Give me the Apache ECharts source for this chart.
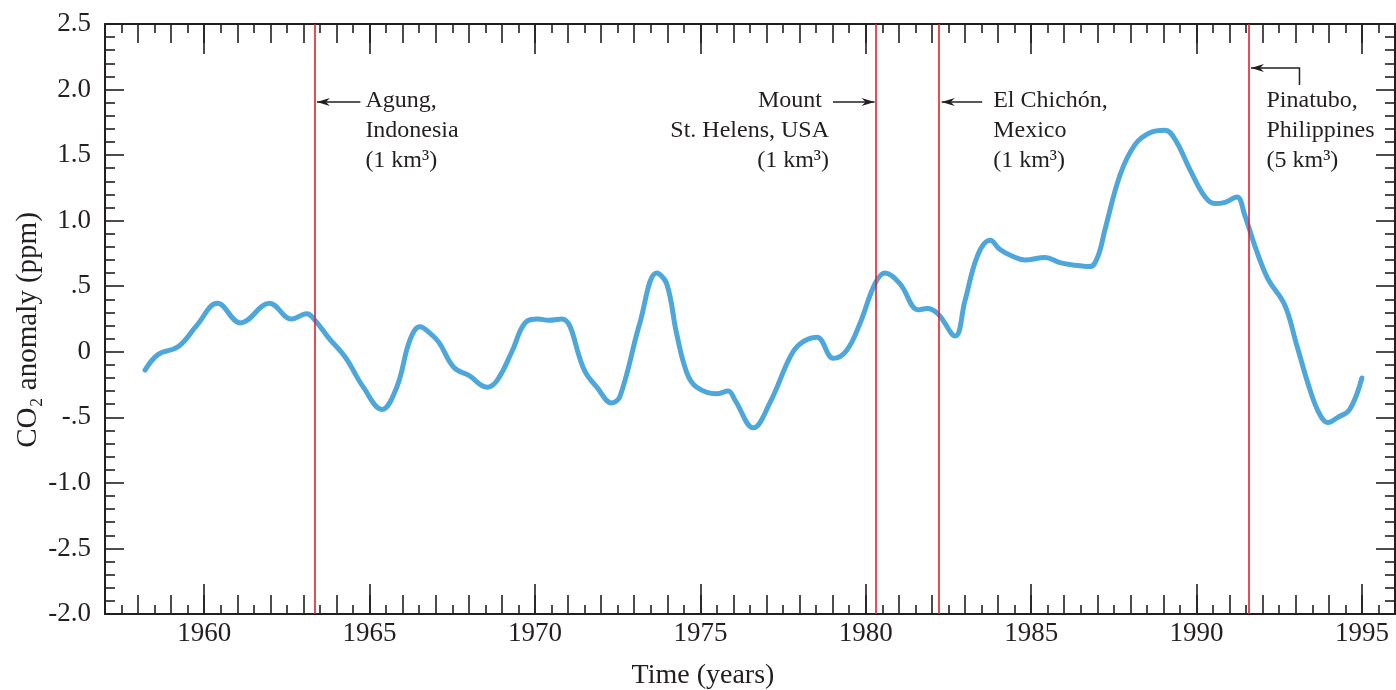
<!DOCTYPE html>
<html><head><meta charset="utf-8">
<script src="https://cdn.jsdelivr.net/npm/echarts@6/dist/echarts.min.js"></script>
<style>html,body{margin:0;padding:0;background:#fff}#c{width:1396px;height:690px}</style>
</head><body><div id="c"></div>
<script>
// ---- data ----
const years = [1958.21,1958.61,1959.22,1959.77,1960.40,1961.10,1961.97,1962.64,1963.10,1963.35,1963.78,1964.26,1964.81,1965.37,1965.82,1966.22,1966.52,1966.83,1967.10,1967.55,1968.00,1968.55,1968.85,1969.30,1969.70,1970.10,1970.40,1970.81,1971.51,1971.87,1972.32,1972.57,1973.17,1973.68,1973.98,1974.28,1974.59,1974.89,1975.49,1975.84,1976.05,1976.60,1977.10,1977.71,1978.01,1978.52,1979.02,1979.42,1979.83,1980.28,1980.58,1981.03,1981.59,1981.85,1982.18,1982.70,1983.00,1983.39,1983.76,1984.06,1984.42,1984.81,1985.42,1985.87,1986.33,1986.78,1987.02,1987.23,1987.69,1988.14,1988.59,1989.05,1989.35,1989.80,1990.26,1990.56,1990.86,1991.22,1991.46,1991.76,1992.15,1992.66,1993.03,1993.43,1993.73,1993.97,1994.27,1994.63,1995.00];
const co2Anomaly = [-0.14,-0.02,0.04,0.20,0.37,0.22,0.37,0.25,0.29,0.24,0.10,-0.04,-0.27,-0.44,-0.27,0.09,0.19,0.14,0.07,-0.12,-0.18,-0.27,-0.22,0.00,0.22,0.25,0.24,0.25,-0.15,-0.27,-0.39,-0.34,0.22,0.60,0.52,0.14,-0.16,-0.27,-0.32,-0.30,-0.37,-0.58,-0.39,-0.04,0.06,0.11,-0.05,0.01,0.22,0.52,0.60,0.52,0.32,0.33,0.29,0.12,0.39,0.74,0.85,0.78,0.73,0.70,0.72,0.68,0.66,0.65,0.73,0.93,1.35,1.58,1.67,1.69,1.62,1.39,1.18,1.13,1.14,1.18,1.04,0.81,0.56,0.36,0.05,-0.29,-0.48,-0.54,-0.50,-0.44,-0.20];
const xMajorTicks = [1960,1965,1970,1975,1980,1985,1990,1995];
const yTickValues = [-2.0,-1.5,-1.0,-0.5,0,0.5,1.0,1.5,2.0,2.5];
const yTickLabels = ["-2.0","-2.5","-1.0","-.5","0",".5","1.0","1.5","2.0","2.5"];
const volcanoYears = [1963.33,1980.31,1982.22,1991.57];
const volcanoText = [
  ["Agung,","Indonesia","(1 km³)"],
  ["Mount","St. Helens, USA","(1 km³)"],
  ["El Chichón,","Mexico","(1 km³)"],
  ["Pinatubo,","Philippines","(5 km³)"]
];
const xTitle = "Time (years)";
const yTitle = "CO₂ anomaly (ppm)";

// ---- chart ----
const INK = '#231f20';
const FONT = '"Liberation Serif","Times New Roman",serif';
const chart = echarts.init(document.getElementById('c'), null, {renderer:'canvas'});
const tickStyle = {color: INK, width: 1.6};
function xAx(pos, major, label){
  const a = {type:'value', min:1957, max:1996, position:pos, splitLine:{show:false},
    axisLine:{show:major, onZero:false, lineStyle:{color:INK, width:2}},
    axisLabel:{show:false}};
  if (major) {
    a.axisTick = {show:true, inside:true, length:30, customValues:xMajorTicks, lineStyle:tickStyle};
    a.axisLabel = {show:label, customValues:xMajorTicks, margin:6, color:INK, fontFamily:FONT, fontSize:27,
      formatter: v => String(Math.round(v))};
  } else {
    a.interval = 1;
    a.axisTick = {show:true, inside:true, length:19, lineStyle:tickStyle};
    a.minorTick = {show:true, splitNumber:2, length:9, lineStyle:tickStyle};
  }
  return a;
}
function yAx(pos, label){
  return {type:'value', min:-2, max:2.5, interval:0.5, position:pos, splitLine:{show:false},
    axisLine:{show:true, onZero:false, lineStyle:{color:INK, width:2}},
    axisTick:{show:true, inside:true, length:19, lineStyle:tickStyle},
    minorTick:{show:true, splitNumber:5, length:10, lineStyle:tickStyle},
    axisLabel:{show:label, margin:14, color:INK, fontFamily:FONT, fontSize:27,
      formatter: v => yTickLabels[yTickValues.findIndex(t => Math.abs(t - v) < 1e-6)]}};
}
chart.setOption({
  animation:false,
  backgroundColor:'#fff',
  grid:{left:105, right:1, top:24, bottom:76, containLabel:false},
  xAxis:[xAx('bottom',true,true), xAx('bottom',false,false), xAx('top',true,false), xAx('top',false,false)],
  yAxis:[yAx('left',true), yAx('right',false)],
  series:[{
    type:'line', xAxisIndex:0, yAxisIndex:0, smooth:0.4, showSymbol:false,
    data: years.map((y,i)=>[y, co2Anomaly[i]]),
    lineStyle:{color:'#4ea7da', width:5, cap:'round', join:'round'},
    z:3,
    markLine:{silent:true, symbol:['none','none'], label:{show:false},
      lineStyle:{color:'#e0202f', width:1.6, type:'solid'},
      data: volcanoYears.map(v=>({xAxis:v})), z:4}
  }]
});

// ---- annotations ----
function X(yr){ return chart.convertToPixel({xAxisIndex:0}, yr); }
const g = [];
function txt(t, x, y, align){
  g.push({type:'text', x:x, y:y, z:10, style:{text:t, fill:INK, fontFamily:FONT, fontSize:24, align:align, verticalAlign:'middle'}});
}
function arrow(pts){
  g.push({type:'polyline', z:10, shape:{points:pts}, style:{stroke:INK, lineWidth:1.5, fill:null}});
  const [tx,ty] = pts[pts.length-1], [px,py] = pts[pts.length-2];
  const ang = Math.atan2(ty-py, tx-px);
  const c = Math.cos(ang), s = Math.sin(ang);
  const P = (a,b)=>[tx + a*c - b*s, ty + a*s + b*c];
  g.push({type:'polygon', z:10, shape:{points:[P(0,0),P(-13,-4),P(-9,0),P(-13,4)]}, style:{fill:INK}});
}
const rows = [101,131,161], ay = 102;
const vx = volcanoYears.map(X);
// Agung
volcanoText[0].forEach((t,i)=>txt(t, vx[0]+51, rows[i], 'left'));
arrow([[vx[0]+46, ay],[vx[0]+2.5, ay]]);
// Mount St. Helens
txt(volcanoText[1][0], vx[1]-54, rows[0], 'right');
txt(volcanoText[1][1], vx[1]-47, rows[1], 'right');
txt(volcanoText[1][2], vx[1]-47, rows[2], 'right');
arrow([[vx[1]-43, ay],[vx[1]-1.5, ay]]);
// El Chichon
volcanoText[2].forEach((t,i)=>txt(t, vx[2]+54, rows[i], 'left'));
arrow([[vx[2]+43, ay],[vx[2]+2.5, ay]]);
// Pinatubo
volcanoText[3].forEach((t,i)=>txt(t, vx[3]+18, rows[i], 'left'));
arrow([[vx[3]+51, 85],[vx[3]+51, 68],[vx[3]+2.5, 68]]);
// axis titles
g.push({type:'text', x:703, y:676, z:10, style:{text:xTitle, fill:INK, fontFamily:FONT, fontSize:28, align:'center', verticalAlign:'middle'}});
g.push({type:'text', x:28, y:330, rotation:Math.PI/2, z:10, style:{text:yTitle, fill:INK, fontFamily:FONT, fontSize:29, align:'center', verticalAlign:'middle'}});
chart.setOption({graphic:g});
</script>
</body></html>
